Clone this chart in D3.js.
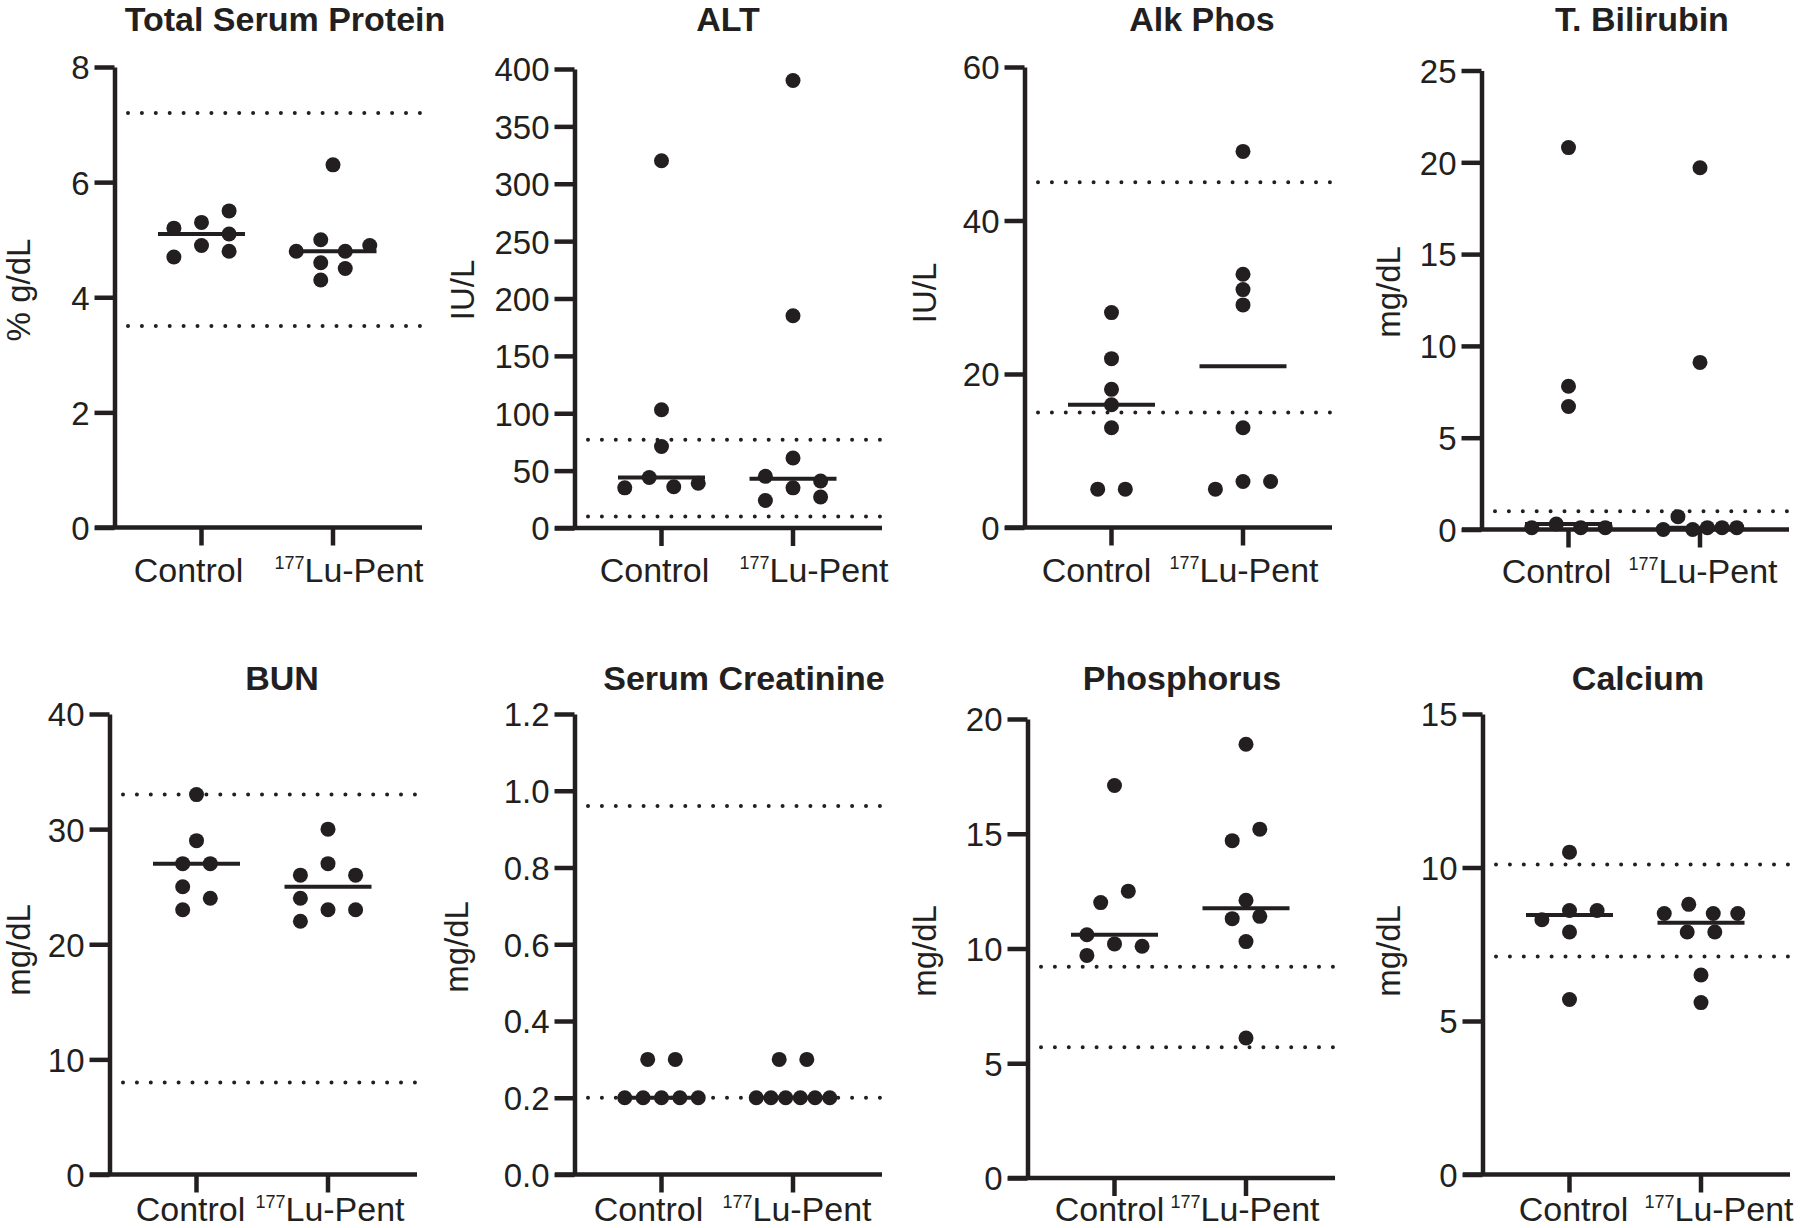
<!DOCTYPE html>
<html>
<head>
<meta charset="utf-8">
<script src="https://cdn.jsdelivr.net/npm/d3@7"></script>
<style>
  html, body { margin: 0; padding: 0; background: #ffffff; }
  svg { display: block; }
</style>
</head>
<body>
<svg id="chart" width="1800" height="1228"></svg>
<script>
// ---------------- data ----------------
const groupKeys = ["control", "lupent"];
const groupMain = ["Control", "Lu-Pent"];
const groupSup  = ["", "177"];

// Total Serum Protein (% g/dL)
const tspControl = [5.3, 5.1, 5.2, 5.5, 4.9, 4.8, 4.7];
const tspLuPent  = [6.3, 4.8, 5.0, 4.9, 4.8, 4.6, 4.5, 4.3];
const tspRef     = [7.2, 3.5];
const tspTicks   = [0, 2, 4, 6, 8];

// ALT (IU/L)
const altControl = [320, 103, 71, 36, 44, 39, 35];
const altLuPent  = [390, 185, 61, 35, 41, 45, 27, 24];
const altRef     = [77, 10];
const altTicks   = [0, 50, 100, 150, 200, 250, 300, 350, 400];

// Alk Phos (IU/L)
const alkControl = [28, 22, 18, 16, 13, 5, 5];
const alkLuPent  = [49, 33, 31, 29, 13, 6, 6, 5];
const alkRef     = [45, 15];
const alkTicks   = [0, 20, 40, 60];

// T. Bilirubin (mg/dL)
const tbilControl = [20.8, 7.8, 6.7, 0.1, 0.3, 0.1, 0.1];
const tbilLuPent  = [19.7, 9.1, 0.1, 0.0, 0.1, 0.7, 0.1, 0.0];
const tbilRef     = [1.0];
const tbilTicks   = [0, 5, 10, 15, 20, 25];

// BUN (mg/dL)
const bunControl = [33, 29, 27, 27, 24, 25, 23];
const bunLuPent  = [30, 27, 26, 26, 23, 23, 24, 22];
const bunRef     = [33, 8];
const bunTicks   = [0, 10, 20, 30, 40];

// Serum Creatinine (mg/dL)
const creaControl = [0.3, 0.3, 0.2, 0.2, 0.2, 0.2, 0.2];
const creaLuPent  = [0.3, 0.3, 0.2, 0.2, 0.2, 0.2, 0.2, 0.2];
const creaRef     = [0.96, 0.2];
const creaTicks   = [0, 0.2, 0.4, 0.6, 0.8, 1.0, 1.2];

// Phosphorus (mg/dL)
const phosControl = [17.1, 12.5, 12.0, 10.2, 10.1, 10.6, 9.7];
const phosLuPent  = [18.9, 15.2, 14.7, 12.1, 11.4, 11.3, 10.3, 6.1];
const phosRef     = [9.2, 5.7];
const phosTicks   = [0, 5, 10, 15, 20];

// Calcium (mg/dL)
const caControl = [10.5, 8.6, 8.6, 8.3, 7.9, 5.7];
const caLuPent  = [8.5, 8.8, 8.5, 8.5, 7.9, 7.9, 6.5, 5.6];
const caRef     = [10.1, 7.1];
const caTicks   = [0, 5, 10, 15];

// ---------------- layout ----------------
const INK = "#231f20";
const FONT = "'Liberation Sans', Arial, Helvetica, sans-serif";
const fmtInt = d3.format("d");
const fmt1 = d3.format(".1f");

const panels = [
  { title: "Total Serum Protein", unit: "% g/dL", data: [tspControl, tspLuPent], ref: tspRef, ticks: tspTicks, fmt: fmtInt,
    axisX: 115, y0: 527.5, yTop: 67, titleX: 285, titleY: 31, unitX: 30, unitY: 290, labelDx: [-13, 16], labelDy: 54 },
  { title: "ALT", unit: "IU/L", data: [altControl, altLuPent], ref: altRef, ticks: altTicks, fmt: fmtInt,
    axisX: 575, y0: 528, yTop: 69, titleX: 728, titleY: 31, unitX: 474, unitY: 290, labelDx: [-7, 21], labelDy: 54 },
  { title: "Alk Phos", unit: "IU/L", data: [alkControl, alkLuPent], ref: alkRef, ticks: alkTicks, fmt: fmtInt,
    axisX: 1025, y0: 527.5, yTop: 67, titleX: 1202, titleY: 31, unitX: 936, unitY: 293, labelDx: [-15, 1], labelDy: 54 },
  { title: "T. Bilirubin", unit: "mg/dL", data: [tbilControl, tbilLuPent], ref: tbilRef, ticks: tbilTicks, fmt: fmtInt,
    axisX: 1482, y0: 529.5, yTop: 70.5, titleX: 1642, titleY: 31, unitX: 1400, unitY: 292, labelDx: [-12, 3], labelDy: 53 },
  { title: "BUN", unit: "mg/dL", data: [bunControl, bunLuPent], ref: bunRef, ticks: bunTicks, fmt: fmtInt,
    axisX: 110, y0: 1174.5, yTop: 714, titleX: 282, titleY: 690, unitX: 30, unitY: 950, labelDx: [-6, 2], labelDy: 46 },
  { title: "Serum Creatinine", unit: "mg/dL", data: [creaControl, creaLuPent], ref: creaRef, ticks: creaTicks, fmt: fmt1,
    axisX: 575, y0: 1174.5, yTop: 714, titleX: 744, titleY: 690, unitX: 468, unitY: 947, labelDx: [-13, 4], labelDy: 46 },
  { title: "Phosphorus", unit: "mg/dL", data: [phosControl, phosLuPent], ref: phosRef, ticks: phosTicks, fmt: fmtInt,
    axisX: 1028, y0: 1178, yTop: 719, titleX: 1182, titleY: 690, unitX: 936, unitY: 951, labelDx: [-5, -1], labelDy: 43 },
  { title: "Calcium", unit: "mg/dL", data: [caControl, caLuPent], ref: caRef, ticks: caTicks, fmt: fmtInt,
    axisX: 1483, y0: 1174.5, yTop: 714, titleX: 1638, titleY: 690, unitX: 1400, unitY: 951, labelDx: [4, 18], labelDy: 46 }
];

const DOT_R = 7.5;
const AXIS_W = 4.5;
const OVERLAP = 14;     // vertical distance (px) below which two symbols collide
const MAX_STEP = 27.6;  // horizontal step between columns
const MAX_SPAN = 73.5;  // widest spread between outer columns

// Scatter layout: group colliding points into clusters, spread them into columns
function scatterOffsets(values, y) {
  const pts = values.map((v, i) => ({ v, i, py: y(v), dx: 0 }));
  const sorted = pts.slice().sort((a, b) => a.py - b.py);
  const clusters = [];
  let cur = [sorted[0]];
  for (let k = 1; k < sorted.length; k++) {
    if (sorted[k].py - sorted[k - 1].py < OVERLAP) cur.push(sorted[k]);
    else { clusters.push(cur); cur = [sorted[k]]; }
  }
  clusters.push(cur);
  clusters.forEach(cl => {
    let m = 1;
    cl.forEach((p, a) => {
      let c = 0;
      for (let b = a; b < cl.length; b++) if (cl[b].py - p.py < OVERLAP) c++;
      m = Math.max(m, c);
    });
    if (m === 1) { cl.forEach(p => p.dx = 0); return; }
    const step = Math.min(MAX_STEP, MAX_SPAN / (m - 1));
    const mid = (m - 1) / 2;
    const pref = d3.range(m).sort((a, b) => (Math.abs(a - mid) - Math.abs(b - mid)) || (b - a));
    const cols = d3.range(m).map(() => []);
    cl.slice().sort((a, b) => a.i - b.i).forEach(p => {
      let chosen = pref.find(c => cols[c].every(q => Math.abs(q.py - p.py) >= OVERLAP));
      if (chosen === undefined) {
        chosen = pref.slice().sort((a, b) =>
          cols[a].filter(q => Math.abs(q.py - p.py) < OVERLAP).length -
          cols[b].filter(q => Math.abs(q.py - p.py) < OVERLAP).length)[0];
      }
      cols[chosen].push(p);
      p.dx = (chosen - mid) * step;
    });
  });
  return pts;
}

const svg = d3.select("#chart");
svg.append("rect").attr("width", 1800).attr("height", 1228).attr("fill", "#ffffff");

panels.forEach(p => {
  const g = svg.append("g");
  const yMax = d3.max(p.ticks);
  const y = d3.scaleLinear().domain([0, yMax]).range([p.y0, p.yTop]);
  const x = d3.scalePoint().domain(groupKeys).range([p.axisX + 86.5, p.axisX + 218]);

  // reference range (dotted)
  p.ref.forEach(v => {
    g.append("line")
      .attr("x1", p.axisX + 13).attr("x2", p.axisX + 307)
      .attr("y1", y(v)).attr("y2", y(v))
      .attr("stroke", INK).attr("stroke-width", 4)
      .attr("stroke-linecap", "round").attr("stroke-dasharray", "0 13.9");
  });

  // y axis
  const yAxis = d3.axisLeft(y).tickValues(p.ticks).tickSize(20).tickSizeOuter(0).tickPadding(5).tickFormat(p.fmt);
  const yg = g.append("g").attr("transform", `translate(${p.axisX - 0.5},0)`).call(yAxis)
    .attr("font-family", FONT).attr("font-size", 33);
  yg.select(".domain").attr("stroke", INK).attr("stroke-width", AXIS_W);
  yg.selectAll(".tick line").attr("stroke", INK).attr("stroke-width", AXIS_W);
  yg.selectAll(".tick text").attr("fill", INK).attr("dy", "0.36em");

  // x axis
  const xAxis = d3.axisBottom(x).tickSize(18).tickSizeOuter(0).tickFormat("");
  const xg = g.append("g").attr("transform", `translate(-0.5,${p.y0})`).call(xAxis);
  xg.select(".domain").remove();
  xg.selectAll(".tick line").attr("stroke", INK).attr("stroke-width", AXIS_W);
  g.append("line")
    .attr("x1", p.axisX - 20).attr("x2", p.axisX + 307)
    .attr("y1", y(0)).attr("y2", y(0))
    .attr("stroke", INK).attr("stroke-width", AXIS_W);

  // x category labels
  groupKeys.forEach((k, i) => {
    const t = g.append("text")
      .attr("x", x(k) + p.labelDx[i]).attr("y", p.y0 + p.labelDy)
      .attr("text-anchor", "middle").attr("font-family", FONT)
      .attr("font-size", 34).attr("fill", INK);
    if (groupSup[i]) {
      t.append("tspan").attr("font-size", 18).attr("dy", -13).text(groupSup[i]);
      t.append("tspan").attr("dy", 13).text(groupMain[i]);
    } else {
      t.append("tspan").text(groupMain[i]);
    }
  });

  // points + median lines
  groupKeys.forEach((k, i) => {
    const vals = p.data[i];
    const pts = scatterOffsets(vals, y);
    g.append("g").selectAll("circle").data(pts).join("circle")
      .attr("cx", d => x(k) + d.dx).attr("cy", d => y(d.v))
      .attr("r", DOT_R).attr("fill", INK);
    const med = d3.median(vals);
    g.append("line")
      .attr("x1", x(k) - 43.5).attr("x2", x(k) + 43.5)
      .attr("y1", y(med)).attr("y2", y(med))
      .attr("stroke", INK).attr("stroke-width", 4);
  });

  // title
  g.append("text").attr("x", p.titleX).attr("y", p.titleY)
    .attr("text-anchor", "middle").attr("font-family", FONT)
    .attr("font-weight", "bold").attr("font-size", 34).attr("fill", INK)
    .text(p.title);

  // unit label
  g.append("text")
    .attr("transform", `translate(${p.unitX},${p.unitY}) rotate(-90)`)
    .attr("text-anchor", "middle").attr("font-family", FONT)
    .attr("font-size", 33).attr("fill", INK)
    .text(p.unit);
});
</script>
</body>
</html>
